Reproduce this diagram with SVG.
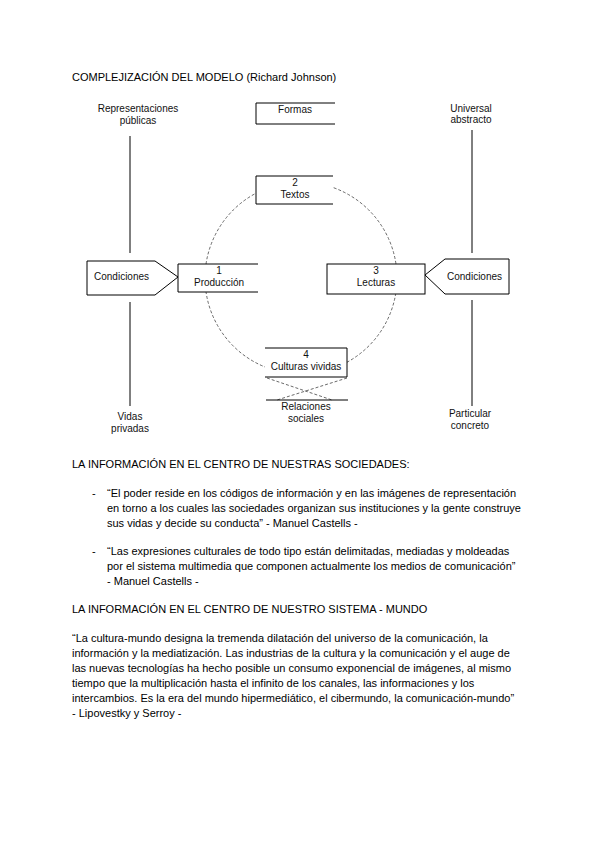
<svg xmlns="http://www.w3.org/2000/svg" width="600" height="848" viewBox="0 0 600 848">
<style>
text{font-family:"Liberation Sans",Arial,sans-serif;fill:#000}
.t{font-size:11px}
.d{font-size:10px;text-anchor:middle;fill:#111}
.dl{font-size:10px;fill:#111}
.ln{stroke:#000;stroke-width:1;fill:none}
.bx{fill:#fff;stroke:none}
.dash{stroke:#444;stroke-width:0.8;stroke-dasharray:3 2;fill:none}
</style>
<rect width="600" height="848" fill="#fff"/>
<text class="t" x="72" y="81">COMPLEJIZACIÓN DEL MODELO (Richard Johnson)</text>
<g id="connectors">
<circle class="dash" cx="301" cy="278" r="96"/>
<line class="ln" x1="130" y1="136" x2="130" y2="253"/>
<line class="ln" x1="130" y1="302" x2="130" y2="406"/>
<line class="ln" x1="472" y1="130" x2="472" y2="253"/>
<line class="ln" x1="472" y1="300" x2="472" y2="406"/>
<line class="dash" x1="267" y1="378" x2="332" y2="400"/>
<line class="dash" x1="347" y1="378" x2="277" y2="400"/>
<line class="ln" x1="266" y1="400" x2="348" y2="400"/>
</g>
<g id="rep"><text class="d" x="138" y="112">Representaciones</text><text class="d" x="138" y="124">públicas</text></g>
<g id="formas"><rect class="bx" x="256" y="103" width="79" height="21"/><path class="ln" d="M335,103H256V124H335"/><text class="d" x="295" y="113">Formas</text></g>
<g id="universal"><text class="d" x="471" y="112">Universal</text><text class="d" x="471" y="123">abstracto</text></g>
<g id="textos"><rect class="bx" x="256" y="176" width="77" height="28"/><path class="ln" d="M333,176H256V204H333"/><text class="d" x="295" y="186">2</text><text class="d" x="295" y="198">Textos</text></g>
<g id="cond-left"><polygon class="ln" fill="#fff" points="87,261 155,261 178,277 155,295 87,295" style="fill:#fff"/><text class="dl" x="94" y="280">Condiciones</text></g>
<g id="produccion"><rect class="bx" x="178" y="264" width="80" height="28"/><path class="ln" d="M258,264H178V292H258"/><text class="d" x="219" y="274">1</text><text class="d" x="219" y="286">Producción</text></g>
<g id="lecturas"><rect x="327" y="264" width="98" height="30" fill="#fff" stroke="#000" stroke-width="1"/><text class="d" x="376" y="274">3</text><text class="d" x="376" y="286">Lecturas</text></g>
<g id="cond-right"><polygon class="ln" points="425,275 445,259 509,259 509,294 445,294" style="fill:#fff"/><text class="dl" x="447" y="280">Condiciones</text></g>
<g id="culturas"><rect class="bx" x="265" y="348" width="82" height="29"/><path class="ln" d="M265,348H347V377H265"/><text class="d" x="306" y="358">4</text><text class="d" x="306" y="370">Culturas vividas</text></g>
<g id="relaciones"><text class="d" x="306" y="410">Relaciones</text><text class="d" x="306" y="422">sociales</text></g>
<g id="vidas"><text class="d" x="130" y="420">Vidas</text><text class="d" x="130" y="432">privadas</text></g>
<g id="particular"><text class="d" x="470" y="417">Particular</text><text class="d" x="470" y="429">concreto</text></g>
<text class="t" x="72" y="468">LA INFORMACIÓN EN EL CENTRO DE NUESTRAS SOCIEDADES:</text>
<text class="t" x="92" y="497">-</text>
<text class="t" x="107" y="497">“El poder reside en los códigos de información y en las imágenes de representación</text>
<text class="t" x="107" y="512">en torno a los cuales las sociedades organizan sus instituciones y la gente construye</text>
<text class="t" x="107" y="527">sus vidas y decide su conducta” - Manuel Castells -</text>
<text class="t" x="92" y="555">-</text>
<text class="t" x="107" y="555">“Las expresiones culturales de todo tipo están delimitadas, mediadas y moldeadas</text>
<text class="t" x="107" y="570">por el sistema multimedia que componen actualmente los medios de comunicación”</text>
<text class="t" x="107" y="585">- Manuel Castells -</text>
<text class="t" x="72" y="613">LA INFORMACIÓN EN EL CENTRO DE NUESTRO SISTEMA - MUNDO</text>
<text class="t" x="72" y="642">“La cultura-mundo designa la tremenda dilatación del universo de la comunicación, la</text>
<text class="t" x="72" y="657">información y la mediatización. Las industrias de la cultura y la comunicación y el auge de</text>
<text class="t" x="72" y="672">las nuevas tecnologías ha hecho posible un consumo exponencial de imágenes, al mismo</text>
<text class="t" x="72" y="687">tiempo que la multiplicación hasta el infinito de los canales, las informaciones y los</text>
<text class="t" x="72" y="702">intercambios. Es la era del mundo hipermediático, el cibermundo, la comunicación-mundo”</text>
<text class="t" x="72" y="717">- Lipovestky y Serroy -</text>
</svg>
